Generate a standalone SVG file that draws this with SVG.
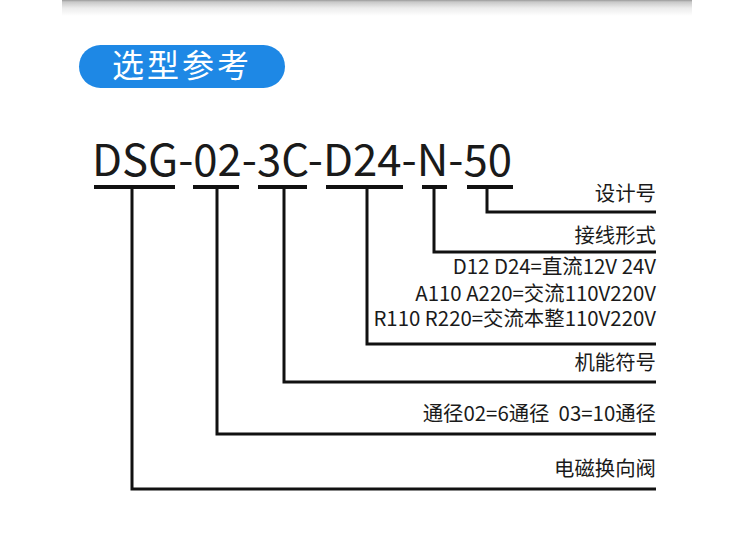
<svg xmlns="http://www.w3.org/2000/svg" width="750" height="546" viewBox="0 0 750 546">
<defs>
<linearGradient id="sh" x1="0" y1="0" x2="0" y2="1">
<stop offset="0" stop-color="#9a9a9a"/>
<stop offset="0.12" stop-color="#c8c8c8"/>
<stop offset="0.5" stop-color="#ececec"/>
<stop offset="1" stop-color="#ffffff"/>
</linearGradient>
<style>
.t{font-family:"Noto Sans CJK SC","Noto Sans",sans-serif;fill:#1a1a1a}
.lbl{font-size:20.4px;text-anchor:end;white-space:pre}
.ul{stroke:#111;stroke-width:4;fill:none}
.cn{stroke:#111;stroke-width:3;fill:none}
</style>
</defs>
<rect width="750" height="546" fill="#ffffff"/>
<rect x="62" y="0" width="630" height="16" fill="url(#sh)"/>
<g id="title">
<rect x="79" y="45" width="206" height="43" rx="21.5" fill="#1E88E5"/>
<text x="182" y="77" class="t" style="fill:#fff;font-size:32px;letter-spacing:3px" text-anchor="middle">选型参考</text>
</g>
<g id="code">
<text x="92" y="176" class="t" style="font-size:44px" textLength="420" lengthAdjust="spacingAndGlyphs">DSG-02-3C-D24-N-50</text>
<line class="ul" x1="94" y1="187" x2="175" y2="187"/>
<line class="ul" x1="193" y1="187" x2="239" y2="187"/>
<line class="ul" x1="258" y1="187" x2="307" y2="187"/>
<line class="ul" x1="326" y1="187" x2="403" y2="187"/>
<line class="ul" x1="422" y1="187" x2="447" y2="187"/>
<line class="ul" x1="467" y1="187" x2="513" y2="187"/>
</g>
<g id="connectors">
<polyline class="cn" points="487,189 487,212 656,212"/>
<polyline class="cn" points="434,189 434,252 656,252"/>
<polyline class="cn" points="367,189 367,344 656,344"/>
<polyline class="cn" points="284,189 284,382 656,382"/>
<polyline class="cn" points="217,189 217,434 656,434"/>
<polyline class="cn" points="132,189 132,489 656,489"/>
</g>
<g id="n-design"><text class="t lbl" x="656" y="201">设计号</text></g>
<g id="n-wiring"><text class="t lbl" x="656" y="243">接线形式</text></g>
<g id="n-voltage">
<text class="t lbl" x="656" y="274">D12 D24=直流12V 24V<tspan x="656" y="301">A110 A220=交流110V220V</tspan><tspan x="656" y="326">R110 R220=交流本整110V220V</tspan></text>
</g>
<g id="n-function"><text class="t lbl" x="656" y="370">机能符号</text></g>
<g id="n-port"><text class="t lbl" x="656" y="421" xml:space="preserve">通径02=6通径  03=10通径</text></g>
<g id="n-valve"><text class="t lbl" x="656" y="476">电磁换向阀</text></g>
</svg>
